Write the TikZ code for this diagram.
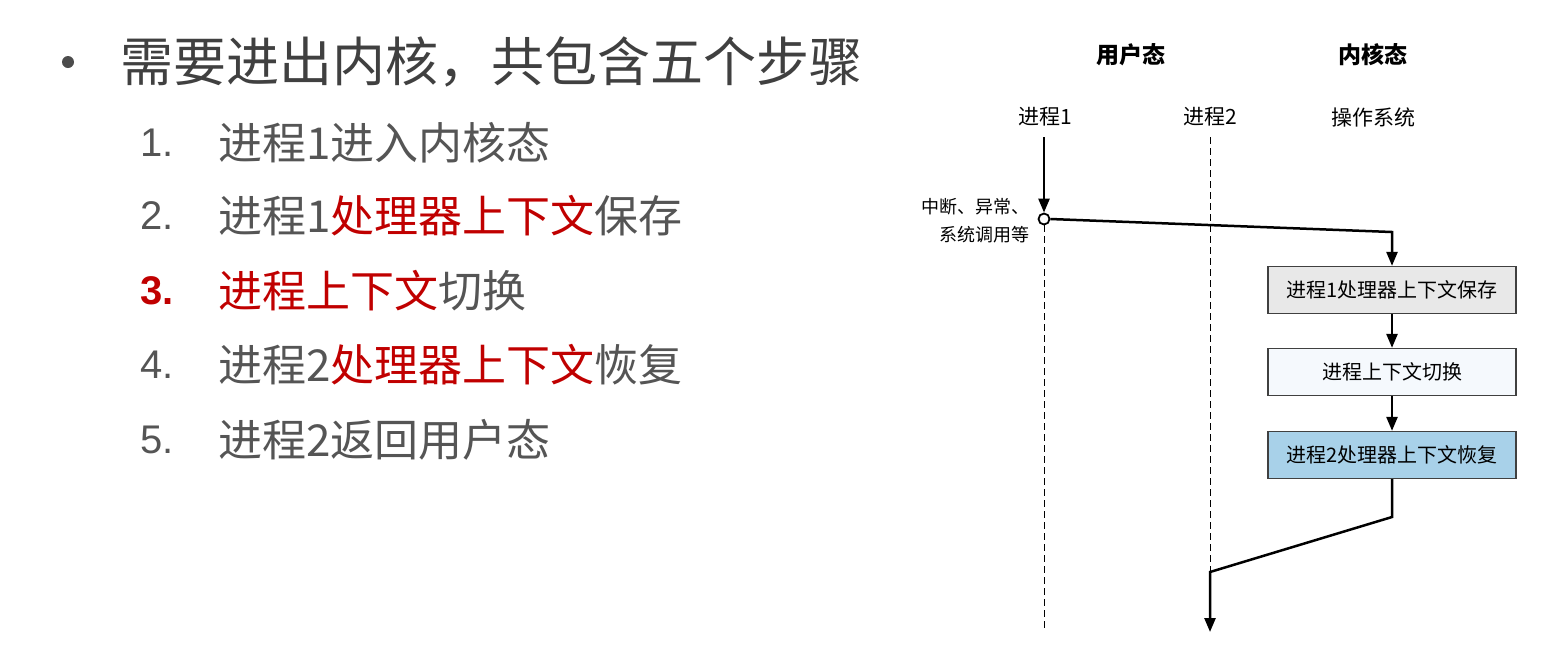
\documentclass[tikz,border=0pt]{standalone}
\usepackage{fontspec}
\setmainfont{Noto Sans CJK SC}
\newfontfamily\latinf{Liberation Sans}
\usetikzlibrary{arrows.meta}
\definecolor{tgray}{HTML}{555555}
\definecolor{tred}{HTML}{C00000}
\definecolor{b1}{HTML}{E8E8E8}
\definecolor{b2}{HTML}{F5F9FD}
\definecolor{b3}{HTML}{A8D1E9}
\begin{document}
\begin{tikzpicture}[x=1pt,y=-1pt,
  item/.style={anchor=west,inner sep=0,text=tgray,font=\fontsize{44}{46}\selectfont},
  num/.style={anchor=west,inner sep=0,text=tgray,font=\latinf\fontsize{40}{44}\selectfont},
  head/.style={inner sep=0,font=\bfseries\fontsize{23}{26}\selectfont},
  proc/.style={inner sep=0,font=\fontsize{21}{24}\selectfont},
  kbox/.style={draw=black!75,line width=1.3pt,minimum width=248pt,minimum height=47pt,inner sep=0,font=\fontsize{20}{22}\selectfont},
  flow/.style={line width=2.5pt,-{Triangle[length=14pt,width=11pt]}},
  dline/.style={line width=1pt,dash pattern=on 7pt off 4pt}]
\useasboundingbox (0,0) rectangle (1546,649);
% left text
\fill[black!70] (68,62) circle (6);
\node[anchor=west,inner sep=0,text=black!75,font=\fontsize{53}{56}\selectfont] (title) at (120,62) {需要进出内核，共包含五个步骤};
\node[num] (n1) at (140,143) {1.};
\node[item] (t1) at (218,143) {进程1进入内核态};
\node[num] (n2) at (140,216) {2.};
\node[item] (t2) at (218,216) {进程1\textcolor{tred}{处理器上下文}保存};
\node[num,text=tred,font=\latinf\bfseries\fontsize{40}{44}\selectfont] (n3) at (140,291) {3.};
\node[item] (t3) at (218,291) {\textcolor{tred}{进程上下文}切换};
\node[num] (n4) at (140,365) {4.};
\node[item] (t4) at (218,365) {进程2\textcolor{tred}{处理器上下文}恢复};
\node[num] (n5) at (140,440) {5.};
\node[item] (t5) at (218,440) {进程2返回用户态};
% right diagram
\node[head] (u) at (1131,55) {用户态};
\node[head] (k) at (1373,55) {内核态};
\node[proc] (p1) at (1045,117) {进程1};
\node[proc] (p2) at (1210,117) {进程2};
\node[proc] (os) at (1373,117) {操作系统};
\node[draw,line width=1.8pt,circle,minimum size=11pt,inner sep=0,fill=white] (c) at (1044,219) {};
\node[anchor=east,align=right,inner sep=0,font=\fontsize{18}{28}\selectfont] (lab) at (1030,221) {中断、异常、\\系统调用等};
\node[kbox,fill=b1] (k1) at (1392,290) {进程1处理器上下文保存};
\node[kbox,fill=b2] (k2) at (1392,372) {进程上下文切换};
\node[kbox,fill=b3] (k3) at (1392,455) {进程2处理器上下文恢复};
\coordinate (p1top) at (1044,137);
\coordinate (p1bot) at (1044,632);
\coordinate (p2top) at (1210,137);
\coordinate (bend1) at (1392,232);
\coordinate (bend2) at (1392,517);
\coordinate (bend3) at (1210,572);
\coordinate (endp) at (1210,632);
\draw[dline] (c.south) -- (p1bot);
\draw[dline] (p2top) -- (bend3);
\draw[flow] (p1top) -- (c.north);
\draw[flow] (c.east) -- (bend1) -- (k1.north);
\draw[flow] (k1) -- (k2);
\draw[flow] (k2) -- (k3);
\draw[flow] (k3.south) -- (bend2) -- (bend3) -- (endp);
\end{tikzpicture}
\end{document}
